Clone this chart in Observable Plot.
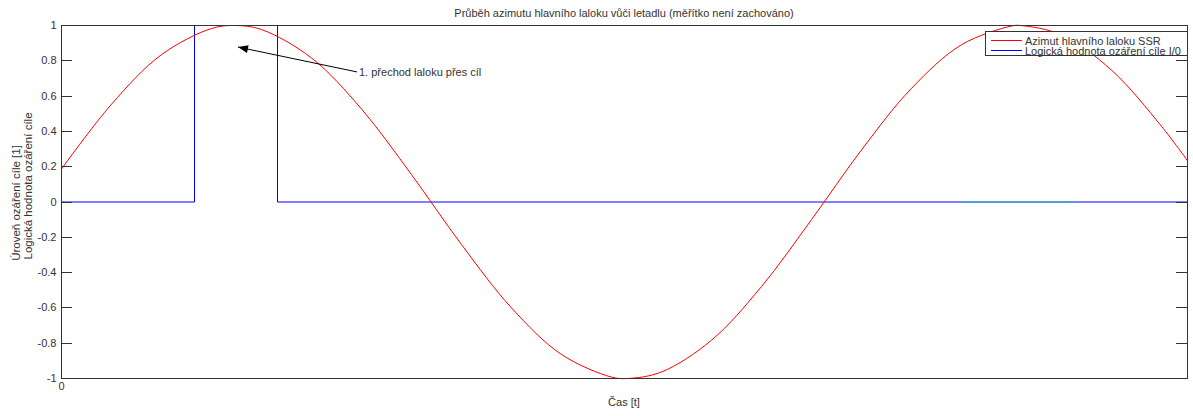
<!DOCTYPE html>
<html>
<head>
<meta charset="utf-8">
<script src="https://cdn.jsdelivr.net/npm/d3@7"></script>
<script src="https://cdn.jsdelivr.net/npm/@observablehq/plot@0.6"></script>
<style>
  html, body { margin: 0; padding: 0; background: #fff; }
  svg text { font-family: "Liberation Sans", Arial, sans-serif; }
</style>
</head>
<body>
<div id="chart"></div>
<script>
// ---- data ----
const time = [0, 50, 100, 150, 173, 200, 250, 300, 350, 400, 450, 500, 550, 566, 600, 650, 700, 750, 800, 850, 900, 950, 959, 1000, 1050, 1100, 1126];
const azimuth = [0.187, 0.554, 0.835, 0.983, 1.0, 0.977, 0.816, 0.527, 0.155, -0.241, -0.600, -0.864, -0.992, -1.0, -0.963, -0.783, -0.479, -0.100, 0.295, 0.644, 0.891, 0.997, 1.0, 0.947, 0.747, 0.429, 0.234];
const pulseTime = [0, 133, 133, 216, 216, 1126];
const pulseValue = [0, 0, 1, 1, 0, 0];
const cyanTime = [901, 1012];
const cyanValue = [0, 0];
const yTicks = [-1, -0.8, -0.6, -0.4, -0.2, 0, 0.2, 0.4, 0.6, 0.8, 1];
const xTicks = [0];
const annotation = {text: "1. přechod laloku přes cíl", tailT: 296, tailV: 0.734, headT: 177, headV: 0.875};
const title = "Průběh azimutu hlavního laloku vůči letadlu (měřítko není zachováno)";
const xLabel = "Čas [t]";
const yLabel1 = "Úroveň ozáření cíle [1]";
const yLabel2 = "Logická hodnota ozáření cíle";
const legendItems = [
  {label: "Azimut hlavního laloku SSR", color: "#ff0000"},
  {label: "Logická hodnota ozáření cíle I/0", color: "#0000ff"}
];

const sine = time.map((t, i) => ({t, v: azimuth[i]}));
const pulse = pulseTime.map((t, i) => ({t, v: pulseValue[i]}));
const cyan = cyanTime.map((t, i) => ({t, v: cyanValue[i]}));

const W = 1193, H = 416;
const mL = 61, mR = 6, mT = 25, mB = 38;
const tickLen = 11;
const txt = "#333";

const plot = Plot.plot({
  width: W,
  height: H,
  marginLeft: mL,
  marginRight: mR,
  marginTop: mT,
  marginBottom: mB,
  style: {fontFamily: "Liberation Sans, Arial, sans-serif", fontSize: "11px", color: txt, background: "#fff"},
  x: {domain: [0, 1126]},
  y: {domain: [-1, 1]},
  marks: [
    Plot.line(pulse, {x: "t", y: "v", stroke: "#0000ff", strokeWidth: 1}),
    Plot.line(cyan, {x: "t", y: "v", stroke: "#3fa9dc", strokeWidth: 1.5}),
    Plot.line(sine, {x: "t", y: "v", stroke: "#ff0000", strokeWidth: 1, curve: "catmull-rom"}),
    Plot.axisY(yTicks, {anchor: "left", tickSize: 0, tickPadding: 5, label: null,
      tickFormat: d => String(+d.toFixed(1)), fill: txt, fontSize: 11}),
    Plot.axisX(xTicks, {anchor: "bottom", tickSize: 0, tickPadding: 4, label: null,
      tickFormat: d => String(d), fill: txt, fontSize: 11}),
    Plot.frame({stroke: "#333", strokeWidth: 1})
  ]
});

document.getElementById("chart").appendChild(plot);
const svg = d3.select(plot);
const xs = plot.scale("x"), ys = plot.scale("y");
const X0 = xs.range[0], X1 = xs.range[1];

// inward ticks on left and right (MATLAB box style)
yTicks.forEach(v => {
  const y = Math.round(ys.apply(v)) + 0.5;
  svg.append("line").attr("x1", X0).attr("x2", X0 + tickLen).attr("y1", y).attr("y2", y)
    .attr("stroke", "#333").attr("stroke-width", 1);
  svg.append("line").attr("x1", X1).attr("x2", X1 - tickLen).attr("y1", y).attr("y2", y)
    .attr("stroke", "#333").attr("stroke-width", 1);
});

function addText(x, y, s, anchor) {
  return svg.append("text").attr("x", x).attr("y", y).attr("text-anchor", anchor)
    .attr("font-size", 11).attr("fill", txt).text(s);
}

addText((X0 + X1) / 2, 17, title, "middle");
addText((X0 + X1) / 2, 406, xLabel, "middle");

svg.append("text").attr("transform", `translate(20,203) rotate(-90)`).attr("text-anchor", "middle")
  .attr("font-size", 11.5).attr("fill", txt).text(yLabel1);
svg.append("text").attr("transform", `translate(32,186) rotate(-90)`).attr("text-anchor", "middle")
  .attr("font-size", 11.5).attr("fill", txt).text(yLabel2);

// annotation arrow
const tx = xs.apply(annotation.tailT), ty = ys.apply(annotation.tailV);
const hx = xs.apply(annotation.headT), hy = ys.apply(annotation.headV);
svg.append("line").attr("x1", tx).attr("y1", ty).attr("x2", hx).attr("y2", hy)
  .attr("stroke", "#000").attr("stroke-width", 1);
const ang = Math.atan2(hy - ty, hx - tx);
const L = 10, Wd = 4;
const bx = hx - L * Math.cos(ang), by = hy - L * Math.sin(ang);
const px = -Math.sin(ang) * Wd, py = Math.cos(ang) * Wd;
svg.append("path").attr("d", `M${hx},${hy}L${bx + px},${by + py}L${bx - px},${by - py}Z`).attr("fill", "#000");
addText(tx + 2, ty + 4, annotation.text, "start");

// legend
const lg = svg.append("g");
lg.append("rect").attr("x", 985.5).attr("y", 31.5).attr("width", 202).attr("height", 24)
  .attr("fill", "#fff").attr("stroke", "#333");
legendItems.forEach((d, i) => {
  const y = 40.5 + i * 10;
  lg.append("line").attr("x1", 991).attr("x2", 1022).attr("y1", y).attr("y2", y)
    .attr("stroke", d.color).attr("stroke-width", 1);
  lg.append("text").attr("x", 1025).attr("y", y + 4).attr("text-anchor", "start").attr("font-size", 11)
    .attr("fill", txt).text(d.label);
});
</script>
</body>
</html>
